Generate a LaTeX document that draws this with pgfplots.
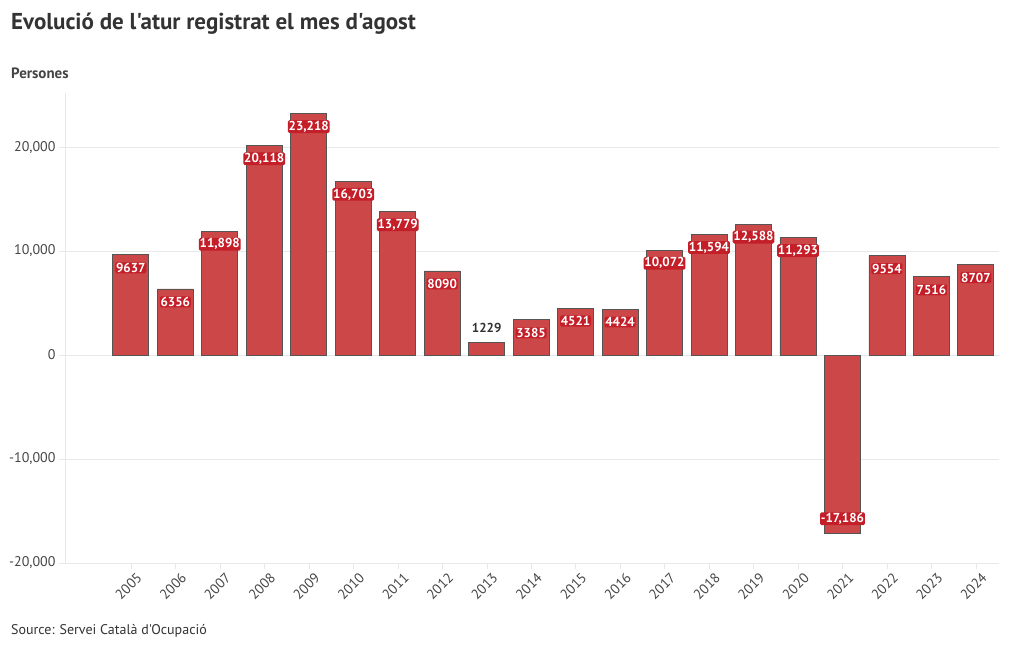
\documentclass[border=0pt]{standalone}
\usepackage{pgfplots}
\pgfplotsset{compat=1.18}
\usepackage{pgfplotstable}
\usepackage{fontspec}
\setmainfont{PT Sans}[Ligatures=TeXOff]
\definecolor{barfill}{HTML}{CC4848}
\definecolor{barline}{HTML}{555555}
\definecolor{halo}{HTML}{C41E28}
\definecolor{txt}{HTML}{333333}
\definecolor{ticktxt}{HTML}{444444}
\definecolor{gridc}{HTML}{E8E8E8}
\pgfplotstableread{
year value label
2005 9637 9637
2006 6356 6356
2007 11898 11,898
2008 20118 20,118
2009 23218 23,218
2010 16703 16,703
2011 13779 13,779
2012 8090 8090
2013 1229 1229
2014 3385 3385
2015 4521 4521
2016 4424 4424
2017 10072 10,072
2018 11594 11,594
2019 12588 12,588
2020 11293 11,293
2021 -17186 -17,186
2022 9554 9554
2023 7516 7516
2024 8707 8707
}\data
\begin{document}
\begin{tikzpicture}[x=1pt,y=1pt]
\path[use as bounding box] (0,0) rectangle (1020,650);
\node[anchor=west,text=txt,font=\bfseries\fontsize{23}{27}\selectfont,inner sep=0pt] at (11,626) {Evolució de l'atur registrat el mes d'agost};
\node[anchor=west,text=ticktxt,font=\bfseries\fontsize{15}{18}\selectfont,inner sep=0pt] at (11,577) {Persones};
\node[anchor=west,text=txt,font=\fontsize{14}{17}\selectfont,inner sep=0pt] at (11,19) {Source: Servei Català d'Ocupació};
\begin{axis}[
  at={(65pt,87pt)}, anchor=south west,
  scale only axis, width=934pt, height=470pt,
  xmin=2003.52, xmax=2024.52,
  ymin=-20000, ymax=25200,
  axis x line*=bottom, axis y line*=left,
  axis line style={draw=gridc},
  xtick=data,
  xticklabel style={rotate=45, anchor=north east, font=\fontsize{14}{16}\selectfont, text=ticktxt, /pgf/number format/1000 sep={}, xshift=5pt, yshift=-2pt},
  ytick={-20000,-10000,0,10000,20000},
  scaled y ticks=false,
  yticklabel style={font=\fontsize{14}{16}\selectfont, text=ticktxt},
  /pgf/number format/assume math mode=true,
  /pgf/number format/1000 sep={,},
  ymajorgrids, major grid style={draw=gridc},
  tick align=outside, major tick length=6pt,
  tick style={draw=gridc},
  clip=false,
]
\addplot[ybar, bar width=36pt, bar shift=0pt, fill=barfill, draw=barline, line width=0.8pt] table[x=year,y=value] {\data};
\addplot[draw=none, mark=none, nodes near coords, point meta=explicit symbolic,
  skip coords between index={8}{9}, skip coords between index={16}{17},
  every node near coord/.style={anchor=center, yshift=-13pt, fill=halo, text=white, inner sep=0.8pt, rounded corners=1.5pt, font=\bfseries\fontsize{13}{15}\selectfont}]
  table[x=year,y=value,meta=label] {\data};
\addplot[draw=none, mark=none, nodes near coords, point meta=explicit symbolic,
  skip coords between index={0}{8}, skip coords between index={9}{20},
  every node near coord/.style={anchor=center, yshift=14pt, text=txt, inner sep=1pt, font=\bfseries\fontsize{13}{15}\selectfont}]
  table[x=year,y=value,meta=label] {\data};
\addplot[draw=none, mark=none, nodes near coords, point meta=explicit symbolic,
  skip coords between index={0}{16}, skip coords between index={17}{20},
  every node near coord/.style={anchor=center, yshift=15pt, fill=halo, text=white, inner sep=0.8pt, rounded corners=1.5pt, font=\bfseries\fontsize{13}{15}\selectfont}]
  table[x=year,y=value,meta=label] {\data};
\end{axis}
\end{tikzpicture}
\end{document}
